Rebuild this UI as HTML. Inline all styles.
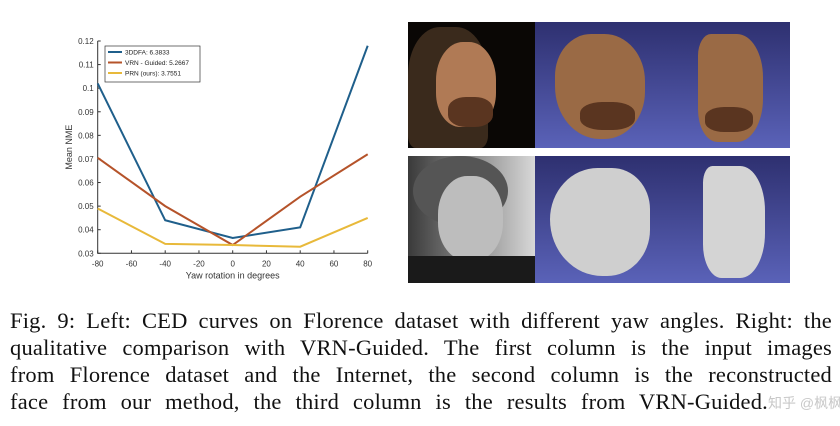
<!DOCTYPE html>
<html><head><meta charset="utf-8"><style>
body{margin:0;width:840px;height:426px;background:#fff;overflow:hidden;position:relative;font-family:"Liberation Sans",sans-serif}
.cap{position:absolute;left:10px;width:822px;font-family:"Liberation Serif",serif;font-size:22.5px;letter-spacing:0.2px;color:#111;text-align:justify;text-align-last:justify;white-space:nowrap;line-height:27px}
</style></head><body>
<svg id="chart" width="400" height="290" style="position:absolute;left:0;top:0" xmlns="http://www.w3.org/2000/svg"></svg>

<div style="position:absolute;left:408px;top:22px;width:127px;height:126px;background:#0a0705;overflow:hidden">
 <div style="position:absolute;left:0;top:5px;width:80px;height:121px;border-radius:40% 40% 10% 10%;background:#3a2a1c"></div>
 <div style="position:absolute;left:28px;top:20px;width:60px;height:85px;border-radius:45% 45% 40% 40%;background:#b07a55"></div>
 <div style="position:absolute;left:40px;top:75px;width:45px;height:30px;border-radius:40%;background:#5a3520"></div>
</div>
<div style="position:absolute;left:535px;top:22px;width:255px;height:126px;background:linear-gradient(#2e3070,#5a62b8);overflow:hidden">
 <div style="position:absolute;left:20px;top:12px;width:90px;height:105px;border-radius:40% 45% 45% 50%;background:#9a6a45"></div>
 <div style="position:absolute;left:45px;top:80px;width:55px;height:28px;border-radius:40%;background:#5a3520"></div>
 <div style="position:absolute;left:163px;top:12px;width:65px;height:108px;border-radius:20% 40% 40% 30%;background:#9a6a45"></div>
 <div style="position:absolute;left:170px;top:85px;width:48px;height:25px;border-radius:40%;background:#5a3520"></div>
</div>
<div style="position:absolute;left:408px;top:156px;width:127px;height:127px;background:linear-gradient(90deg,#3a3a3a,#d8d8d8);overflow:hidden">
 <div style="position:absolute;left:5px;top:0;width:95px;height:70px;border-radius:50%;background:#555"></div>
 <div style="position:absolute;left:30px;top:20px;width:65px;height:85px;border-radius:45%;background:#bdbdbd"></div>
 <div style="position:absolute;left:0;top:100px;width:127px;height:27px;background:#1a1a1a"></div>
</div>
<div style="position:absolute;left:535px;top:156px;width:255px;height:127px;background:linear-gradient(#2e3070,#5a62b8);overflow:hidden">
 <div style="position:absolute;left:15px;top:12px;width:100px;height:108px;border-radius:50% 40% 45% 55%;background:#cfcfcf"></div>
 <div style="position:absolute;left:168px;top:10px;width:62px;height:112px;border-radius:15% 40% 40% 30%;background:#d4d4d4"></div>
</div>

<div class="cap" style="top:307px">Fig. 9: Left: CED curves on Florence dataset with different yaw angles. Right: the</div>
<div class="cap" style="top:334px">qualitative comparison with VRN-Guided. The first column is the input images</div>
<div class="cap" style="top:361px">from Florence dataset and the Internet, the second column is the reconstructed</div>
<div class="cap" style="top:388px;width:758px">face from our method, the third column is the results from VRN-Guided.</div>
<div style="position:absolute;left:768px;top:393px;white-space:nowrap;font-family:'Liberation Sans','Noto Sans CJK SC',sans-serif;font-size:14px;color:#c8c8c8">知乎 @枫枫</div>

<script>
const xTicks=[-80,-60,-40,-20,0,20,40,60,80];
const yTicks=[0.03,0.04,0.05,0.06,0.07,0.08,0.09,0.1,0.11,0.12];
const yawAngles=[-80,-40,0,40,80];
const ddfaValues=[0.102,0.044,0.0365,0.041,0.118];
const vrnValues=[0.0705,0.050,0.0335,0.054,0.072];
const prnValues=[0.049,0.034,0.0335,0.0328,0.045];
const seriesNames=["3DDFA: 6.3833","VRN - Guided: 5.2667","PRN (ours): 3.7551"];
const NS="http://www.w3.org/2000/svg";
const svg=document.getElementById('chart');
const X0=97.7,X1=367.7,Y0=253.3,Y1=41;
const sx=v=>X0+(v+80)/160*(X1-X0);
const sy=v=>Y0-(v-0.03)/0.09*(Y0-Y1);
function mk(t,a){const e=document.createElementNS(NS,t);for(const k in a)e.setAttribute(k,a[k]);svg.appendChild(e);return e;}
const box=mk('rect',{x:X0,y:Y1,width:X1-X0,height:Y0-Y1,fill:'none',stroke:'none'});


let ax=mk('path',{d:`M${X0} ${Y1}V${Y0}H${X1}`,stroke:'#333',fill:'none','stroke-width':1});


xTicks.forEach(t=>{
 mk('line',{x1:sx(t),x2:sx(t),y1:Y0,y2:Y0-3,stroke:'#333'});
 const tx=mk('text',{x:sx(t),y:Y0+13,'font-size':8,'text-anchor':'middle',fill:'#333'});tx.textContent=t;
 
 
});
yTicks.forEach(t=>{
 mk('line',{x1:X0,x2:X0+3,y1:sy(t),y2:sy(t),stroke:'#333'});
 const tx=mk('text',{x:X0-4,y:sy(t)+3,'font-size':8,'text-anchor':'end',fill:'#333'});tx.textContent=String(+t.toFixed(2));
 
 
});
let xt=mk('text',{x:(X0+X1)/2,y:Y0+25,'font-size':9,'text-anchor':'middle',fill:'#333'});xt.textContent='Yaw rotation in degrees';


let yt=mk('text',{x:0,y:0,'font-size':9,'text-anchor':'middle',fill:'#333',transform:`translate(72,${(Y0+Y1)/2}) rotate(-90)`});yt.textContent='Mean NME';


const colors=['#1f5f8b','#b5532a','#e8b93a'];
[ddfaValues,vrnValues,prnValues].forEach((vals,i)=>{
 const p=mk('polyline',{points:vals.map((v,j)=>sx(yawAngles[j])+','+sy(v)).join(' '),fill:'none',stroke:colors[i],'stroke-width':2});
 
 
});
const lg=mk('rect',{x:105,y:46,width:95,height:36,fill:'#fff',stroke:'#333','stroke-width':0.7});


seriesNames.forEach((n,i)=>{
 const y=52+i*10.5;
 mk('line',{x1:108,x2:122,y1:y,y2:y,stroke:colors[i],'stroke-width':2});
 const t=mk('text',{x:125,y:y+2.5,'font-size':6.5,fill:'#222'});t.textContent=n;
 
 
});
</script>
</body></html>
